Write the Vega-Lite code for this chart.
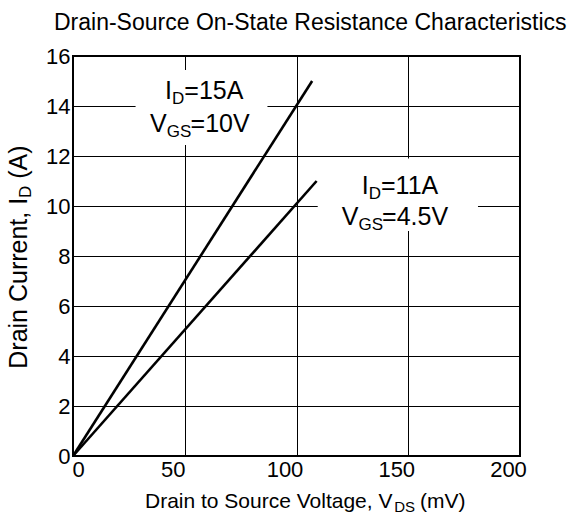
{
  "$schema": "https://vega.github.io/schema/vega-lite/v6.json",
  "width": 447,
  "height": 400,
  "autosize": "none",
  "padding": {"left": 73, "top": 56, "right": 57, "bottom": 71},
  "background": "white",
  "config": {
    "view": {"stroke": "#000", "strokeWidth": 2},
    "font": "Liberation Sans",
    "axis": {
      "domain": false,
      "ticks": false,
      "grid": true,
      "gridColor": "#000",
      "gridOpacity": 1,
      "gridWidth": 1,
      "labelFont": "Liberation Sans",
      "labelFontSize": 22,
      "labelColor": "#000",
      "labelPadding": 3,
      "title": null
    }
  },
  "title": {
    "text": "Drain-Source On-State Resistance Characteristics",
    "anchor": "start",
    "frame": "group",
    "dx": -19,
    "offset": 10,
    "fontSize": 23,
    "fontWeight": "normal",
    "font": "Liberation Sans",
    "color": "#000"
  },
  "datasets": {
    "curves": [
      {"series": "ID=15A, VGS=10V", "x": 0, "y": 0},
      {"series": "ID=15A, VGS=10V", "x": 107, "y": 15},
      {"series": "ID=11A, VGS=4.5V", "x": 0, "y": 0},
      {"series": "ID=11A, VGS=4.5V", "x": 109, "y": 11}
    ],
    "boxes": [
      {"x": 28, "x2": 87, "y": 15.44, "y2": 12.44},
      {"x": 109.5, "x2": 181.2, "y": 11.9, "y2": 9.0}
    ],
    "labels": [
      {"x": 41.2, "y": 14.27, "text": "I", "role": "main"},
      {"x": 44.3, "y": 14.07, "text": "D", "role": "sub"},
      {"x": 49.8, "y": 14.27, "text": "=15A", "role": "main"},
      {"x": 34.5, "y": 12.97, "text": "V", "role": "main"},
      {"x": 42.0, "y": 12.77, "text": "GS", "role": "sub"},
      {"x": 52.6, "y": 12.97, "text": "=10V", "role": "main"},
      {"x": 129.2, "y": 10.48, "text": "I", "role": "main"},
      {"x": 132.3, "y": 10.28, "text": "D", "role": "sub"},
      {"x": 137.8, "y": 10.48, "text": "=11A", "role": "main"},
      {"x": 120.2, "y": 9.24, "text": "V", "role": "main"},
      {"x": 127.7, "y": 9.04, "text": "GS", "role": "sub"},
      {"x": 138.3, "y": 9.24, "text": "=4.5V", "role": "main"},
      {"x": 32.2, "y": -2.08, "text": "Drain to Source Voltage, V", "role": "xmain"},
      {"x": 143.7, "y": -2.24, "text": "DS", "role": "xsub"},
      {"x": 155.3, "y": -2.08, "text": "(mV)", "role": "xmain"},
      {"x": -20.6, "y": 3.49, "text": "Drain Current, I", "role": "ymain"},
      {"x": -18.8, "y": 10.32, "text": "D", "role": "ysub"},
      {"x": -20.6, "y": 11.09, "text": "(A)", "role": "ymain"}
    ]
  },
  "layer": [
    {
      "data": {"name": "boxes"},
      "mark": {"type": "rect", "fill": "white", "stroke": null},
      "encoding": {
        "x": {
          "field": "x",
          "type": "quantitative",
          "scale": {"domain": [0, 200], "nice": false},
          "axis": {
            "values": [0, 50, 100, 150, 200],
            "labelFlush": false,
            "labelOffset": {"condition": {"test": "datum.value == 0", "value": 5}, "value": -12}
          }
        },
        "x2": {"field": "x2"},
        "y": {"field": "y", "type": "quantitative", "scale": {"domain": [0, 16], "nice": false}, "axis": {"values": [0, 2, 4, 6, 8, 10, 12, 14, 16]}},
        "y2": {"field": "y2"}
      }
    },
    {
      "data": {"name": "curves"},
      "mark": {"type": "line", "color": "#000", "strokeWidth": 2.6},
      "encoding": {
        "x": {"field": "x", "type": "quantitative", "scale": {"domain": [0, 200], "nice": false}},
        "y": {"field": "y", "type": "quantitative", "scale": {"domain": [0, 16], "nice": false}},
        "detail": {"field": "series"}
      }
    },
    {
      "data": {"name": "labels"},
      "transform": [{"filter": "datum.role == 'main'"}],
      "mark": {"type": "text", "align": "left", "baseline": "alphabetic", "fontSize": 25, "color": "#000"},
      "encoding": {
        "x": {"field": "x", "type": "quantitative", "scale": {"domain": [0, 200], "nice": false}},
        "y": {"field": "y", "type": "quantitative", "scale": {"domain": [0, 16], "nice": false}},
        "text": {"field": "text"}
      }
    },
    {
      "data": {"name": "labels"},
      "transform": [{"filter": "datum.role == 'sub'"}],
      "mark": {"type": "text", "align": "left", "baseline": "alphabetic", "fontSize": 17, "color": "#000"},
      "encoding": {
        "x": {"field": "x", "type": "quantitative", "scale": {"domain": [0, 200], "nice": false}},
        "y": {"field": "y", "type": "quantitative", "scale": {"domain": [0, 16], "nice": false}},
        "text": {"field": "text"}
      }
    },
    {
      "data": {"name": "labels"},
      "transform": [{"filter": "datum.role == 'xmain'"}],
      "mark": {"type": "text", "align": "left", "baseline": "alphabetic", "fontSize": 21, "color": "#000"},
      "encoding": {
        "x": {"field": "x", "type": "quantitative", "scale": {"domain": [0, 200], "nice": false}},
        "y": {"field": "y", "type": "quantitative", "scale": {"domain": [0, 16], "nice": false}},
        "text": {"field": "text"}
      }
    },
    {
      "data": {"name": "labels"},
      "transform": [{"filter": "datum.role == 'xsub'"}],
      "mark": {"type": "text", "align": "left", "baseline": "alphabetic", "fontSize": 15, "color": "#000"},
      "encoding": {
        "x": {"field": "x", "type": "quantitative", "scale": {"domain": [0, 200], "nice": false}},
        "y": {"field": "y", "type": "quantitative", "scale": {"domain": [0, 16], "nice": false}},
        "text": {"field": "text"}
      }
    },
    {
      "data": {"name": "labels"},
      "transform": [{"filter": "datum.role == 'ymain'"}],
      "mark": {"type": "text", "align": "left", "baseline": "alphabetic", "fontSize": 25, "angle": 270, "color": "#000"},
      "encoding": {
        "x": {"field": "x", "type": "quantitative", "scale": {"domain": [0, 200], "nice": false}},
        "y": {"field": "y", "type": "quantitative", "scale": {"domain": [0, 16], "nice": false}},
        "text": {"field": "text"}
      }
    },
    {
      "data": {"name": "labels"},
      "transform": [{"filter": "datum.role == 'ysub'"}],
      "mark": {"type": "text", "align": "left", "baseline": "alphabetic", "fontSize": 17, "angle": 270, "color": "#000"},
      "encoding": {
        "x": {"field": "x", "type": "quantitative", "scale": {"domain": [0, 200], "nice": false}},
        "y": {"field": "y", "type": "quantitative", "scale": {"domain": [0, 16], "nice": false}},
        "text": {"field": "text"}
      }
    }
  ]
}
